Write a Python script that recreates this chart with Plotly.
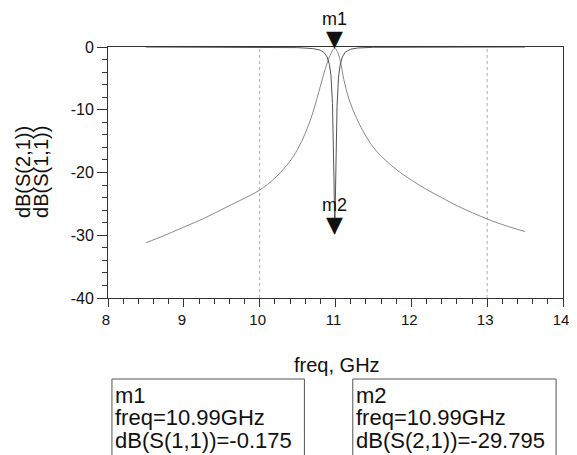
import plotly.graph_objects as go

# ---- data ----
s11_freq = [8.5, 8.75, 9.0, 9.25, 9.5, 9.75, 10.0, 10.2, 10.4, 10.5, 10.6, 10.7,
            10.76, 10.82, 10.87, 10.91, 10.95, 10.99, 11.03, 11.07, 11.11, 11.18,
            11.28, 11.4, 11.54, 11.8, 12.0, 12.2, 12.4, 12.62, 13.0, 13.25, 13.5]
s11_db = [-31.2, -30.0, -28.7, -27.4, -25.9, -24.4, -22.8, -20.9, -18.2, -16.3, -13.8, -10.5,
          -8.0, -5.4, -3.3, -1.9, -0.8, -0.175, -0.9, -2.6, -5.2, -8.4,
          -11.4, -14.2, -16.6, -19.5, -21.2, -22.7, -24.0, -25.4, -27.4, -28.5, -29.4]

s21_freq = [8.5, 9.5, 10.0, 10.5, 10.7, 10.8, 10.85, 10.89, 10.92, 10.94, 10.96, 10.97,
            10.98, 10.99, 11.0, 11.01, 11.02, 11.04, 11.06, 11.09, 11.13, 11.2, 11.3,
            11.5, 12.0, 13.0, 13.5]
s21_db = [0.0, -0.01, -0.02, -0.1, -0.25, -0.5, -0.9, -1.6, -2.8, -4.5, -9.0, -14.0,
          -21.0, -29.795, -23.0, -15.0, -9.5, -4.8, -3.0, -1.6, -0.8, -0.35, -0.15,
          -0.05, -0.01, 0.0, 0.0]

markers = [
    {"name": "m1", "freq": 10.99, "value": -0.175, "trace": "dB(S(1,1))"},
    {"name": "m2", "freq": 10.99, "value": -29.795, "trace": "dB(S(2,1))"},
]

x_ticks = [8, 9, 10, 11, 12, 13, 14]
y_ticks = [0, -10, -20, -30, -40]
grid_x = [10, 13]

# ---- layout geometry (window pixels; the page body adds an 8px offset) ----
OFF = 8
W, H = 577 - OFF, 455 - OFF
PLOT_L, PLOT_R, PLOT_T, PLOT_B = 108, 569, 47, 298   # plot area in window pixels
ML, MT = PLOT_L - OFF, PLOT_T - OFF
MR, MB = W - (PLOT_R - OFF), H - (PLOT_B - OFF)
PW, PH = PLOT_R - PLOT_L, PLOT_B - PLOT_T


def px(X):
    return (X - PLOT_L) / PW


def py(Y):
    return (PLOT_B - Y) / PH


FONT = "Liberation Sans, Arial, sans-serif"
AX = "#333333"

fig = go.Figure()
fig.add_trace(go.Scatter(x=s11_freq, y=s11_db, mode="lines", name="dB(S(1,1))",
                         line=dict(color="#8a8a8a", width=1), line_shape="spline",
                         cliponaxis=False))
fig.add_trace(go.Scatter(x=s21_freq, y=s21_db, mode="lines", name="dB(S(2,1))",
                         line=dict(color="#555555", width=1), cliponaxis=False))

annotations = []
shapes = []

for gx in grid_x:
    shapes.append(dict(type="line", xref="x", yref="paper", x0=gx, x1=gx, y0=0, y1=1,
                       line=dict(color="#aaaaaa", width=1, dash="dot"), layer="below"))

# marker triangles and labels
for m in markers:
    annotations.append(dict(x=m["freq"], y=m["value"], xref="x", yref="y", text="▼",
                            showarrow=False, yanchor="bottom", yshift=-5,
                            font=dict(family="DejaVu Sans", size=22, color="#111111")))
    annotations.append(dict(x=m["freq"], y=m["value"], xref="x", yref="y", text=m["name"],
                            showarrow=False, yanchor="bottom", yshift=17,
                            font=dict(family=FONT, size=18, color="#111111")))

# marker readout boxes
box_x = [(112, 307), (356, 562)]
for (x0, x1), m in zip(box_x, markers):
    shapes.append(dict(type="rect", xref="paper", yref="paper", x0=px(x0), x1=px(x1),
                       y0=py(480), y1=py(379), line=dict(color="#555555", width=1)))
    lines = [m["name"], f"freq={m['freq']:.2f}GHz", f"{m['trace']}={m['value']:.3f}"]
    for i, t in enumerate(lines):
        annotations.append(dict(x=px(x0 + 1), y=py(395 + 22.5 * i), xref="paper", yref="paper",
                                text=t, showarrow=False, xanchor="left", yanchor="middle",
                                font=dict(family=FONT, size=22, color="#111111")))

# axis titles
annotations.append(dict(x=px(340), y=py(365), xref="paper", yref="paper", text="freq, GHz",
                        showarrow=False, xanchor="center", yanchor="middle",
                        font=dict(family=FONT, size=20, color="#111111")))
for Xc, t in [(22, "dB(S(2,1))"), (40, "dB(S(1,1))")]:
    annotations.append(dict(x=px(Xc), y=py(172), xref="paper", yref="paper", text=t,
                            showarrow=False, xanchor="center", yanchor="middle", textangle=-90,
                            font=dict(family=FONT, size=20, color="#111111")))

fig.update_layout(
    width=W, height=H,
    margin=dict(l=ML, r=MR, t=MT, b=MB, pad=0),
    paper_bgcolor="white", plot_bgcolor="white",
    showlegend=False,
    font=dict(family=FONT, color="#111111"),
    annotations=annotations,
    shapes=shapes,
    xaxis=dict(range=[8, 14], tickvals=x_ticks, ticktext=[str(v) for v in x_ticks],
               showgrid=False, zeroline=False, showline=True, linecolor=AX, linewidth=1,
               mirror=True, ticks="outside", ticklen=8, tickcolor=AX,
               ticklabelshift=-2,
               minor=dict(dtick=0.2, ticks="outside", ticklen=5, tickcolor=AX),
               tickfont=dict(size=15, family=FONT)),
    yaxis=dict(range=[-40, 0], tickvals=y_ticks, ticktext=[str(v) for v in y_ticks],
               showgrid=False, zeroline=False, showline=True, linecolor=AX, linewidth=1,
               mirror=True, ticks="outside", ticklen=10, tickcolor=AX,
               minor=dict(dtick=2, ticks="outside", ticklen=5, tickcolor=AX),
               tickfont=dict(size=16, family=FONT)),
)

fig.write_html("out.html")
